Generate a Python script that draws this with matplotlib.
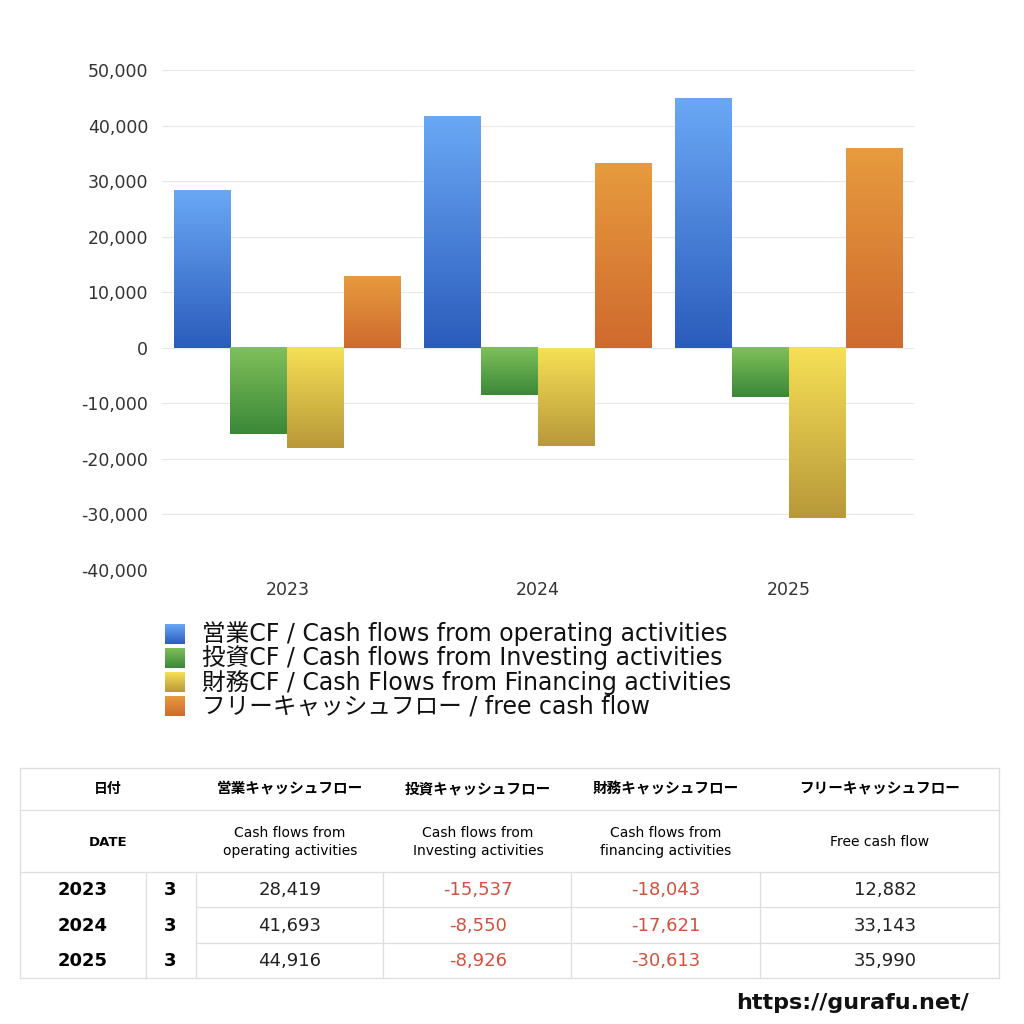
import numpy as np
import matplotlib.pyplot as plt
from matplotlib.colors import LinearSegmentedColormap

plt.rcParams['font.family'] = ['DejaVu Sans', 'Noto Sans CJK JP']

years = ['2023', '2024', '2025']
months = ['3', '3', '3']
operating = [28419, 41693, 44916]
investing = [-15537, -8550, -8926]
financing = [-18043, -17621, -30613]
free_cf = [12882, 33143, 35990]

series = [operating, investing, financing, free_cf]
legend_labels = ['営業CF / Cash flows from operating activities',
                 '投資CF / Cash flows from Investing activities',
                 '財務CF / Cash Flows from Financing activities',
                 'フリーキャッシュフロー / free cash flow']
head_jp = ['営業キャッシュフロー', '投資キャッシュフロー', '財務キャッシュフロー', 'フリーキャッシュフロー']
head_en = ['Cash flows from\noperating activities', 'Cash flows from\nInvesting activities',
           'Cash flows from\nfinancing activities', 'Free cash flow']
# gradient (top, bottom)
grads = [('#6aa8f5', '#2b5cbc'), ('#80c05a', '#3a8838'),
         ('#f6e055', '#b8983a'), ('#e79b3e', '#cf6a2e')]

fig = plt.figure(figsize=(10.24, 10.24), dpi=100)
ax = fig.add_axes([162/1024, 1 - 570/1024, 752/1024, 500/1024])

x = np.arange(len(years))
w = 0.227
for i, vals in enumerate(series):
    bars = ax.bar(x + (i - 1.5) * w, vals, w, color='none', edgecolor='none')
    cmap = LinearSegmentedColormap.from_list('g%d' % i, [grads[i][0], grads[i][1]])
    for b in bars:
        x0, y0 = b.get_x(), b.get_y()
        x1, y1 = x0 + b.get_width(), y0 + b.get_height()
        lo, hi = min(y0, y1), max(y0, y1)
        ax.imshow(np.linspace(0, 1, 256).reshape(-1, 1), cmap=cmap, aspect='auto',
                  extent=(x0, x1, lo, hi), origin='upper', zorder=3)

ax.set_xlim(-0.5, 2.5)
ax.set_ylim(-40000, 50000)
ax.set_yticks(np.arange(-40000, 50001, 10000))
ax.set_yticklabels(['{:,}'.format(v) for v in range(-40000, 50001, 10000)])
ax.set_xticks(x)
ax.set_xticklabels(years)
ax.tick_params(length=0, labelsize=12.5, labelcolor='#333333')
ax.tick_params(axis='y', pad=10)
ax.tick_params(axis='x', pad=8)
ax.grid(axis='y', color='#e8e8e8', lw=0.8, zorder=0)
ax.set_axisbelow(True)
for s in ax.spines.values():
    s.set_visible(False)

# overlay in pixel coords for legend, table, footer
ov = fig.add_axes([0, 0, 1, 1])
ov.set_xlim(0, 1024)
ov.set_ylim(1024, 0)
ov.axis('off')

for i, lab in enumerate(legend_labels):
    yc = 634 + i * 24
    cmap = LinearSegmentedColormap.from_list('l%d' % i, [grads[i][0], grads[i][1]])
    ov.imshow(np.linspace(0, 1, 64).reshape(-1, 1), cmap=cmap, aspect='auto',
              extent=(165, 185, yc + 10, yc - 10), origin='upper')
    ov.text(202, yc, lab, fontsize=17, va='center', ha='left', color='#111111')
ov.set_xlim(0, 1024)
ov.set_ylim(1024, 0)

lc = '#dedede'
for y in [768, 810, 872, 978]:
    ov.plot([20, 999], [y, y], color=lc, lw=0.9)
for y in [907, 943]:
    ov.plot([196, 999], [y, y], color=lc, lw=0.9)
for xv in [20, 999]:
    ov.plot([xv, xv], [768, 978], color=lc, lw=0.9)
for xv in [146, 196, 383, 571, 760]:
    ov.plot([xv, xv], [872, 978], color=lc, lw=0.9)

col_x = [290, 478, 666, 880]
ov.text(108, 789, '日付', fontsize=10, fontweight='bold', ha='center', va='center')
ov.text(108, 842, 'DATE', fontsize=9.5, fontweight='bold', ha='center', va='center')
for j in range(4):
    ov.text(col_x[j], 789, head_jp[j], fontsize=10.5, fontweight='bold', ha='center', va='center')
    ov.text(col_x[j], 842, head_en[j], fontsize=10, ha='center',
            va='center', linespacing=1.4)

row_y = [890, 926, 961]
val_x = [290, 478, 666, 885]
for r in range(len(years)):
    ov.text(83, row_y[r], years[r], fontsize=13, fontweight='bold', ha='center', va='center')
    ov.text(170, row_y[r], months[r], fontsize=13, fontweight='bold', ha='center', va='center')
    for j, vals in enumerate(series):
        v = vals[r]
        ov.text(val_x[j], row_y[r], '{:,}'.format(v), fontsize=13, ha='center', va='center',
                color='#d2503c' if v < 0 else '#222222')

ov.text(852, 1003, 'https://gurafu.net/', fontsize=16, fontweight='bold', ha='center',
        va='center', color='#111111')

fig.savefig('out.png', dpi=100, facecolor='white')
